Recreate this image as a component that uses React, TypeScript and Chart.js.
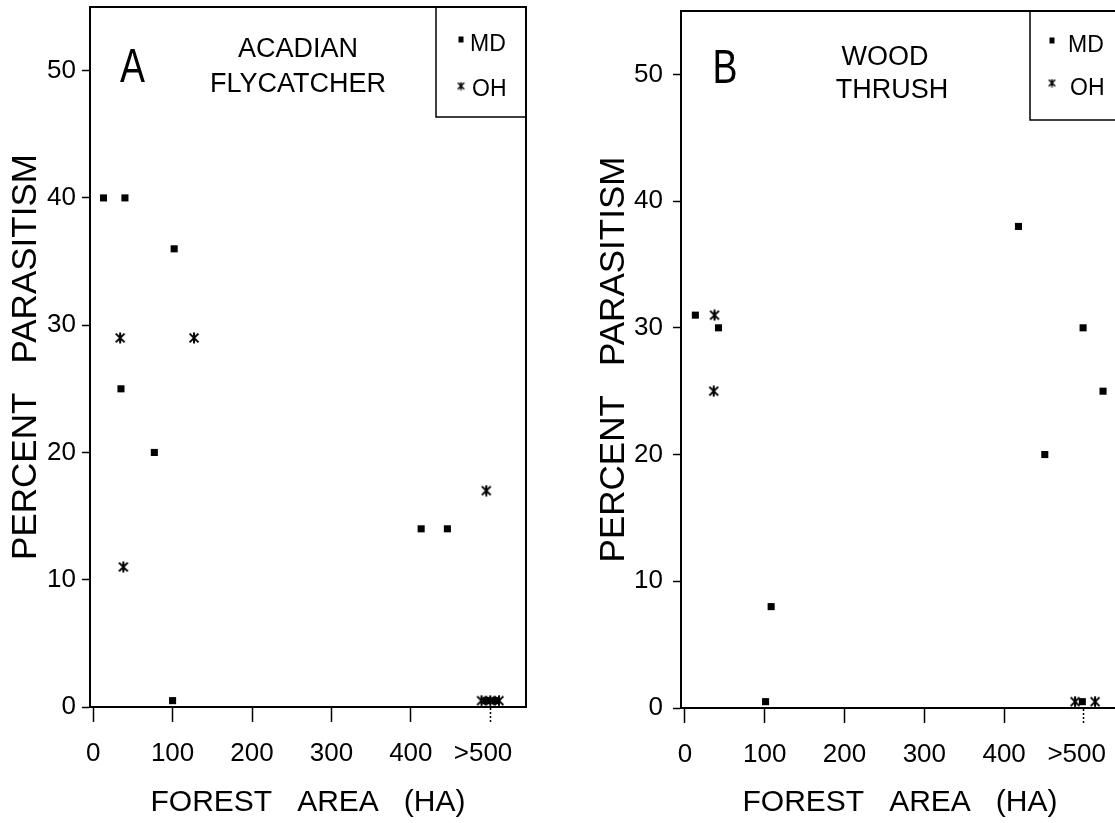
import React, { useEffect, useRef } from 'react';
import { Chart, registerables } from 'chart.js';

Chart.register(...registerables);

// ---------------- data ----------------
const xTickValues = [0, 100, 200, 300, 400, 500];
const xTickLabels = ['0', '100', '200', '300', '400', '>500  '];
const yTickValues = [0, 10, 20, 30, 40, 50];

// Panel A: Acadian Flycatcher
const acadianMdArea = [13, 40, 102, 35, 77, 100, 413, 446, 495, 506];
const acadianMdPct = [40, 40, 36, 25, 20, 0.5, 14, 14, 0.5, 0.5];
const acadianOhArea = [34, 127, 38, 495, 489, 500, 511];
const acadianOhPct = [29, 29, 11, 17, 0.5, 0.5, 0.5];

// Panel B: Wood Thrush
const thrushMdArea = [13, 42, 418, 499, 524, 451, 108, 101, 498];
const thrushMdPct = [31, 30, 38, 30, 25, 20, 8, 0.5, 0.5];
const thrushOhArea = [37, 36, 489, 514];
const thrushOhPct = [31, 25, 0.5, 0.5];

const seriesLabels = ['MD', 'OH'];

// ---------------- style ----------------
const FAMILY = "'Liberation Sans', Arial, Helvetica, sans-serif";
const CW = 560;
const CH = 823;

function makeStar(size: number, lw: number): HTMLCanvasElement {
  const c = document.createElement('canvas');
  c.width = size;
  c.height = size;
  const g = c.getContext('2d') as CanvasRenderingContext2D;
  g.strokeStyle = '#000';
  g.lineWidth = lw;
  const m = size / 2;
  const r = size / 2 - 0.5;
  const d = r * 0.8;
  g.beginPath();
  g.moveTo(m, m - r);
  g.lineTo(m, m + r);
  g.moveTo(m - d, m - d);
  g.lineTo(m + d, m + d);
  g.moveTo(m + d, m - d);
  g.lineTo(m - d, m + d);
  g.stroke();
  return c;
}

type Panel = {
  canvasLeft: number;
  chartLeft: number;
  chartRight: number;
  chartTop: number;
  chartBottom: number;
  xMin: number;
  xMax: number;
  yPad: number;
  yTitlePad: number;
  md: { x: number[]; y: number[] };
  oh: { x: number[]; y: number[] };
  letter: { text: string; cx: number; base: number };
  species: { text: string; cx: number; base: number }[];
  legend: { left: number; bottom: number; sq: [number, number]; md: [number, number]; st: [number, number]; oh: [number, number] };
};

const panels: Panel[] = [
  {
    canvasLeft: 0,
    chartLeft: 90,
    chartRight: 526,
    chartTop: 7,
    chartBottom: 707,
    xMin: -4,
    xMax: 545,
    yPad: 6,
    yTitlePad: 8.5,
    md: { x: acadianMdArea, y: acadianMdPct },
    oh: { x: acadianOhArea, y: acadianOhPct },
    letter: { text: 'A', cx: 132.5, base: 82 },
    species: [
      { text: 'ACADIAN', cx: 298, base: 56.5 },
      { text: 'FLYCATCHER', cx: 298, base: 91.5 },
    ],
    legend: { left: 436, bottom: 117, sq: [461, 39.5], md: [470, 50.5], st: [461, 86], oh: [472, 95.5] },
  },
  {
    canvasLeft: 593,
    chartLeft: 88,
    chartRight: 526,
    chartTop: 11,
    chartBottom: 708,
    xMin: -5,
    xMax: 544,
    yPad: 10,
    yTitlePad: 3.5,
    md: { x: thrushMdArea, y: thrushMdPct },
    oh: { x: thrushOhArea, y: thrushOhPct },
    letter: { text: 'B', cx: 725, base: 83 },
    species: [
      { text: 'WOOD', cx: 885, base: 65 },
      { text: 'THRUSH', cx: 892, base: 98 },
    ],
    legend: { left: 1030, bottom: 120, sq: [1052, 40.5], md: [1068, 51.5], st: [1052, 83], oh: [1070, 95] },
  },
];

function buildConfig(p: Panel): any {
  const star = makeStar(12, 2);
  const smallStar = makeStar(9, 1.5);
  const off = p.canvasLeft;
  const decor = {
    id: 'decor',
    afterDraw(chart: any) {
      const ctx: CanvasRenderingContext2D = chart.ctx;
      const a = chart.chartArea;
      ctx.save();
      ctx.strokeStyle = '#000';
      ctx.fillStyle = '#000';
      // top and right frame
      ctx.lineWidth = 2;
      ctx.beginPath();
      ctx.moveTo(a.left, a.top);
      ctx.lineTo(a.right, a.top);
      ctx.lineTo(a.right, a.bottom);
      ctx.stroke();
      // legend box
      const L = p.legend;
      ctx.lineWidth = 1.5;
      ctx.beginPath();
      ctx.moveTo(L.left - off, a.top);
      ctx.lineTo(L.left - off, L.bottom);
      ctx.lineTo(a.right, L.bottom);
      ctx.stroke();
      ctx.fillRect(L.sq[0] - off - 2.5, L.sq[1] - 3, 5, 6);
      ctx.drawImage(smallStar, L.st[0] - off - 4.5, L.st[1] - 4.5);
      ctx.font = `23px ${FAMILY}`;
      ctx.textAlign = 'left';
      ctx.textBaseline = 'alphabetic';
      ctx.fillText(seriesLabels[0], L.md[0] - off, L.md[1]);
      ctx.fillText(seriesLabels[1], L.oh[0] - off, L.oh[1]);
      // species name
      ctx.textAlign = 'center';
      ctx.font = `27px ${FAMILY}`;
      p.species.forEach((s) => ctx.fillText(s.text, s.cx - off, s.base));
      // panel letter
      ctx.save();
      ctx.translate(p.letter.cx - off, p.letter.base);
      ctx.scale(0.78, 1);
      ctx.font = `48px ${FAMILY}`;
      ctx.fillText(p.letter.text, 0, 0);
      ctx.restore();
      ctx.restore();
    },
  };
  return {
    type: 'scatter',
    data: {
      datasets: [
        {
          label: seriesLabels[0],
          data: p.md.x.map((x, i) => ({ x, y: p.md.y[i] })),
          pointStyle: 'rect',
          pointRadius: 5,
          backgroundColor: '#000',
          borderColor: '#000',
          borderWidth: 0,
          clip: false,
        },
        {
          label: seriesLabels[1],
          data: p.oh.x.map((x, i) => ({ x, y: p.oh.y[i] })),
          pointStyle: star,
          pointRadius: 6,
          backgroundColor: '#000',
          borderColor: '#000',
          clip: false,
        },
      ],
    },
    options: {
      responsive: false,
      animation: false,
      devicePixelRatio: 1,
      events: [],
      layout: { padding: { left: 0, top: p.chartTop, right: CW - p.chartRight, bottom: 0 } },
      plugins: { legend: { display: false }, tooltip: { enabled: false } },
      scales: {
        x: {
          type: 'linear',
          min: p.xMin,
          max: p.xMax,
          afterBuildTicks: (s: any) => {
            s.ticks = xTickValues.map((v) => ({ value: v }));
          },
          afterFit: (s: any) => {
            s.height = CH - p.chartBottom;
            s.paddingLeft = 0;
            s.paddingRight = 0;
            s.paddingTop = 0;
            s.paddingBottom = 0;
          },
          ticks: {
            autoSkip: false,
            maxRotation: 0,
            minRotation: 0,
            padding: 16,
            color: '#000',
            font: { family: FAMILY, size: 26 },
            callback: (v: number) => {
              const i = xTickValues.indexOf(v);
              return i >= 0 ? xTickLabels[i] : '';
            },
          },
          grid: {
            drawOnChartArea: false,
            drawTicks: true,
            tickLength: 15,
            tickColor: '#000',
            tickWidth: 1.5,
            tickBorderDash: (ctx: any) => (ctx.tick && ctx.tick.value === 500 ? [2, 2] : []),
          },
          border: { display: true, color: '#000', width: 2 },
          title: {
            display: true,
            text: 'FOREST   AREA   (HA)',
            color: '#000',
            font: { family: FAMILY, size: 30, lineHeight: 1 },
            padding: { top: 0, bottom: 5 },
          },
        },
        y: {
          type: 'linear',
          min: 0,
          max: 55,
          afterBuildTicks: (s: any) => {
            s.ticks = yTickValues.map((v) => ({ value: v }));
          },
          afterFit: (s: any) => {
            s.width = p.chartLeft;
            s.paddingLeft = 0;
            s.paddingRight = 0;
            s.paddingTop = 0;
            s.paddingBottom = 0;
          },
          ticks: {
            padding: p.yPad,
            color: '#000',
            font: { family: FAMILY, size: 26 },
            callback: (v: number) => String(v),
          },
          grid: {
            drawOnChartArea: false,
            drawTicks: true,
            tickLength: 8,
            tickColor: '#000',
            tickWidth: 1.5,
          },
          border: { display: true, color: '#000', width: 2 },
          title: {
            display: true,
            text: 'PERCENT   PARASITISM',
            color: '#000',
            font: { family: FAMILY, size: 35, lineHeight: 1 },
            padding: { top: p.yTitlePad, bottom: 0 },
          },
        },
      },
    },
    plugins: [decor],
  };
}

function PanelChart({ p }: { p: Panel }) {
  const ref = useRef<HTMLCanvasElement | null>(null);
  useEffect(() => {
    if (!ref.current) return;
    const chart = new Chart(ref.current, buildConfig(p));
    return () => chart.destroy();
  }, [p]);
  return (
    <canvas
      ref={ref}
      width={CW}
      height={CH}
      style={{ position: 'absolute', left: p.canvasLeft, top: 0, width: CW, height: CH }}
    />
  );
}

export default function App() {
  return (
    <div
      style={{
        position: 'fixed',
        left: 0,
        top: 0,
        width: 1115,
        height: 823,
        overflow: 'hidden',
        background: '#fff',
      }}
    >
      {panels.map((p, i) => (
        <PanelChart key={i} p={p} />
      ))}
    </div>
  );
}
